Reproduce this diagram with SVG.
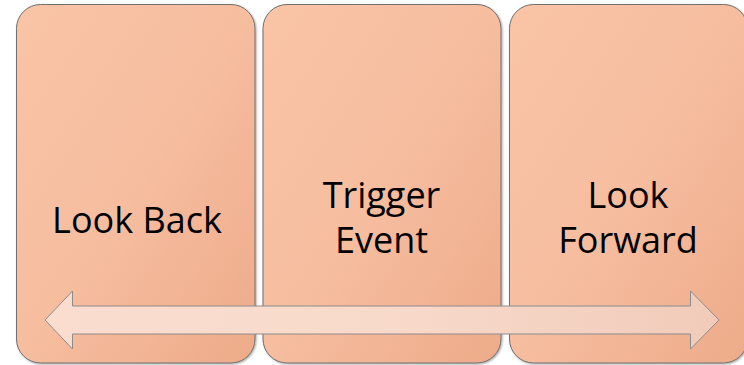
<svg xmlns="http://www.w3.org/2000/svg" width="744" height="365" viewBox="0 0 744 365">
  <defs>
    <linearGradient id="boxFill" x1="0" y1="0" x2="1" y2="1">
      <stop offset="0" stop-color="#FAC4A7"/>
      <stop offset="0.5" stop-color="#F6BD9F"/>
      <stop offset="1" stop-color="#EDAB89"/>
    </linearGradient>
    <linearGradient id="arrowFill" x1="0" y1="0" x2="1" y2="0">
      <stop offset="0" stop-color="#FADDCF"/>
      <stop offset="0.5" stop-color="#F8DACB"/>
      <stop offset="1" stop-color="#F1CBBA"/>
    </linearGradient>
    <filter id="shadow" x="-5%" y="-5%" width="110%" height="110%">
      <feDropShadow dx="1" dy="1" stdDeviation="0.8" flood-color="#000" flood-opacity="0.35"/>
    </filter>
  </defs>
  <style>
    .box { fill: url(#boxFill); stroke: #6f6f6f; stroke-width: 1; filter: url(#shadow); }
    .label { font-family: "Open Sans", "Liberation Sans", sans-serif; font-size: 36px; fill: #000; text-anchor: middle; }
    .arrow { fill: url(#arrowFill); stroke: #8c8c8c; stroke-width: 1; }
  </style>
  <rect width="744" height="365" fill="#FFFFFF"/>
  <g id="node-look-back">
    <rect class="box" x="16.5" y="4.5" width="238.5" height="358.5" rx="24" ry="24"/>
    <text class="label" x="137" y="233">Look Back</text>
  </g>
  <g id="node-trigger-event">
    <rect class="box" x="263" y="4.5" width="238" height="358.5" rx="24" ry="24"/>
    <text class="label" x="381.5" y="208">Trigger</text>
    <text class="label" x="381.5" y="253">Event</text>
  </g>
  <g id="node-look-forward">
    <rect class="box" x="509.5" y="4.5" width="238" height="358.5" rx="24" ry="24"/>
    <text class="label" x="628" y="208">Look</text>
    <text class="label" x="628" y="253">Forward</text>
  </g>
  <g id="connectors">
    <path class="arrow" d="M45,320 L72.5,291 L72.5,306 L690.5,306 L690.5,291 L719,320 L690.5,349 L690.5,334 L72.5,334 L72.5,349 Z"/>
  </g>
</svg>
